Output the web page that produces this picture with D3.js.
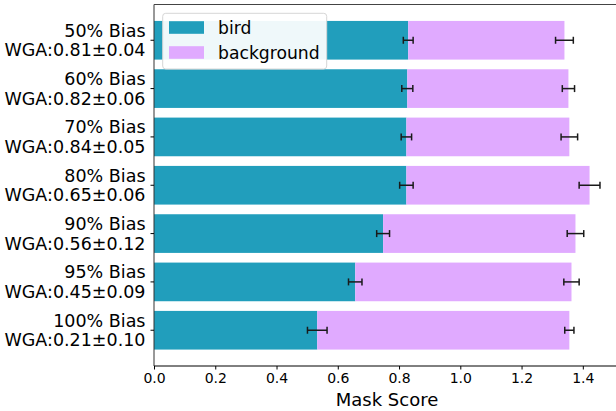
<!DOCTYPE html>
<html>
<head>
<meta charset="utf-8">
<script src="https://cdn.jsdelivr.net/npm/d3@7"></script>
<style>
  html, body { margin: 0; padding: 0; background: #fff; }
  svg { display: block; font-family: "DejaVu Sans", sans-serif; }
</style>
</head>
<body>
<svg id="chart" width="616" height="411"></svg>
<script>
const categories = ["50% Bias", "60% Bias", "70% Bias", "80% Bias", "90% Bias", "95% Bias", "100% Bias"];
const wgaLabels = ["WGA:0.81±0.04", "WGA:0.82±0.06", "WGA:0.84±0.05", "WGA:0.65±0.06", "WGA:0.56±0.12", "WGA:0.45±0.09", "WGA:0.21±0.10"];
const birdValues = [0.830, 0.827, 0.824, 0.824, 0.748, 0.657, 0.533];
const birdErrors = [0.016, 0.018, 0.017, 0.022, 0.021, 0.022, 0.032];
const backgroundValues = [0.510, 0.526, 0.532, 0.598, 0.628, 0.706, 0.823];
const backgroundErrors = [0.029, 0.020, 0.027, 0.034, 0.027, 0.025, 0.015];
const xTicks = [0.0, 0.2, 0.4, 0.6, 0.8, 1.0, 1.2, 1.4];
const seriesNames = ["bird", "background"];

const colors = { bird: "#219ebc", background: "#e0aaff" };

const svg = d3.select("#chart");
const pL = 154, pR = 620, pT = 4.5, pB = 366;

const x = d3.scaleLinear().domain([0, 1.52]).range([pL, pL + 1.52 * 306.3]);
const y = d3.scaleLinear().domain([-0.74, 6.74]).range([pT, pB]);
const barH = y(0.8) - y(0);

const rows = categories.map((c, i) => ({
  cat: c, wga: wgaLabels[i], i,
  bird: birdValues[i], birdErr: birdErrors[i],
  bg: backgroundValues[i], bgErr: backgroundErrors[i]
}));

// bars
const g = svg.append("g");
g.selectAll("rect.bird").data(rows).enter().append("rect")
  .attr("x", x(0)).attr("y", d => y(d.i) - barH / 2)
  .attr("width", d => x(d.bird) - x(0)).attr("height", barH)
  .attr("fill", colors.bird);
g.selectAll("rect.bg").data(rows).enter().append("rect")
  .attr("x", d => x(d.bird)).attr("y", d => y(d.i) - barH / 2)
  .attr("width", d => x(d.bird + d.bg) - x(d.bird)).attr("height", barH)
  .attr("fill", colors.background);

// error bars
function errBar(center, err, yc) {
  const eg = svg.append("g").attr("stroke", "#1a1a1a").attr("stroke-width", 1.5);
  eg.append("line").attr("x1", x(center - err)).attr("x2", x(center + err)).attr("y1", yc).attr("y2", yc);
  eg.append("line").attr("x1", x(center - err)).attr("x2", x(center - err)).attr("y1", yc - 3.5).attr("y2", yc + 3.5);
  eg.append("line").attr("x1", x(center + err)).attr("x2", x(center + err)).attr("y1", yc - 3.5).attr("y2", yc + 3.5);
}
rows.forEach(d => {
  errBar(d.bird, d.birdErr, y(d.i));
  errBar(d.bird + d.bg, d.bgErr, y(d.i));
});

// spines
svg.append("line").attr("x1", pL).attr("x2", pL).attr("y1", pT).attr("y2", pB).attr("stroke", "#333").attr("stroke-width", 1);
svg.append("line").attr("x1", pL).attr("x2", pR).attr("y1", pT).attr("y2", pT).attr("stroke", "#444").attr("stroke-width", 1);
svg.append("line").attr("x1", pL).attr("x2", pR).attr("y1", pB).attr("y2", pB).attr("stroke", "#000").attr("stroke-width", 1);

// x axis
const xAxis = d3.axisBottom(x).tickValues(xTicks).tickFormat(d3.format(".1f")).tickSizeOuter(0).tickSize(3.5).tickPadding(3.5);
const xg = svg.append("g").attr("transform", `translate(0,${pB})`).call(xAxis);
xg.select(".domain").remove();
xg.selectAll("text").attr("font-size", 14).attr("font-family", "DejaVu Sans").attr("fill", "#000");
xg.selectAll("line").attr("stroke", "#000");

// y ticks and labels
rows.forEach(d => {
  svg.append("line").attr("x1", pL - 3.5).attr("x2", pL).attr("y1", y(d.i)).attr("y2", y(d.i)).attr("stroke", "#000");
  const t = svg.append("text").attr("text-anchor", "end").attr("font-size", 17.5).attr("fill", "#000");
  t.append("tspan").attr("x", pL - 8.5).attr("y", y(d.i) - 9.8).attr("dy", "0.35em").text(d.cat);
  t.append("tspan").attr("x", pL - 8.5).attr("y", y(d.i) + 9.8).attr("dy", "0.35em").text(d.wga);
});

// x label
svg.append("text").attr("x", (pL + pR) / 2).attr("y", 400).attr("dy", "0.35em")
  .attr("text-anchor", "middle").attr("font-size", 18).attr("fill", "#000").text("Mask Score");

// legend
const lg = svg.append("g");
lg.append("rect").attr("x", 162.7).attr("y", 13.3).attr("width", 164).attr("height", 55.7)
  .attr("rx", 3).attr("fill", "#fff").attr("fill-opacity", 0.93).attr("stroke", "#d6d6d6").attr("stroke-width", 1);
seriesNames.forEach((s, k) => {
  const yc = 27.5 + k * 25;
  lg.append("rect").attr("x", 169).attr("y", yc - 6.3).attr("width", 35).attr("height", 12.6).attr("fill", colors[s]);
  lg.append("text").attr("x", 218).attr("y", yc).attr("dy", "0.35em").attr("font-size", 17.2).attr("fill", "#000").text(s);
});
</script>
</body>
</html>
